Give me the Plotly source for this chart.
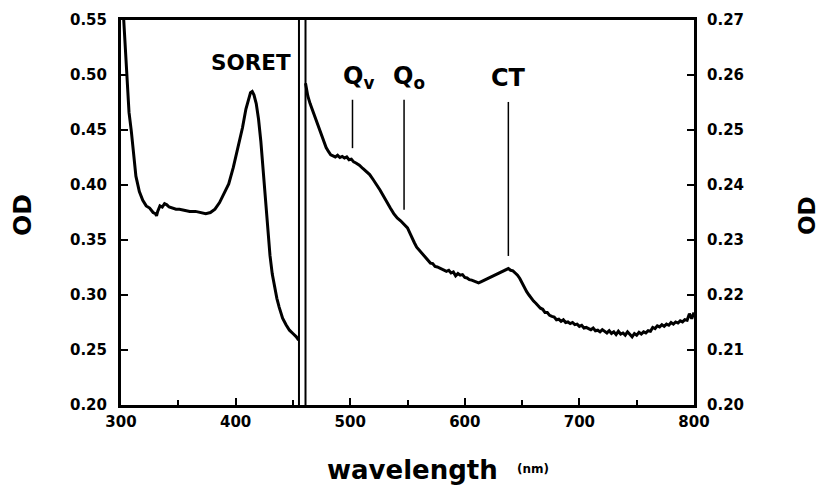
import plotly.graph_objects as go

# Soret region (left axis)
soret_nm = [301, 303, 305, 307, 309, 311, 313, 316, 319, 322, 325, 328, 330, 331, 332,
            334, 336, 338, 340, 342, 345, 348, 351, 355, 360, 365, 370, 374, 378, 382,
            386, 390, 394, 398, 402, 406, 409, 411, 413, 414.5, 416, 418, 420, 422, 424,
            426, 428, 430, 432, 434, 436, 438, 441, 444, 447, 450, 453, 455]
soret_od = [0.575, 0.535, 0.497, 0.466, 0.449, 0.425, 0.408, 0.394, 0.386, 0.381, 0.379,
            0.375, 0.374, 0.372, 0.376, 0.381, 0.380, 0.383, 0.382, 0.380, 0.379, 0.378,
            0.378, 0.377, 0.376, 0.376, 0.375, 0.374, 0.375, 0.378, 0.384, 0.392, 0.401,
            0.416, 0.433, 0.452, 0.469, 0.478, 0.484, 0.485, 0.482, 0.474, 0.460, 0.440,
            0.415, 0.387, 0.358, 0.336, 0.319, 0.307, 0.297, 0.289, 0.279, 0.273, 0.268,
            0.265, 0.262, 0.259]

# Visible / near-IR region (right axis)
vis_nm = [461, 463, 465, 467, 469, 471, 473, 475, 477, 479, 481, 483, 485, 487, 489, 491,
          493, 495, 497, 499, 501, 503, 505, 508, 511, 514, 517, 520, 523, 526, 529, 532,
          535, 538, 541, 544, 547, 550, 552, 554, 556, 558, 560, 562, 564, 566, 568, 570,
          572, 574, 576, 578, 580, 582, 584, 586, 588, 590, 592, 594, 596, 598, 600, 602,
          604, 606, 608, 610, 612, 614, 616, 618, 620, 622, 624, 626, 628, 630, 632, 634,
          636, 638, 640, 642, 644, 646, 648, 650, 652, 654, 656, 658, 660, 662, 664, 666,
          668, 670, 672, 674, 676, 678, 680, 682, 684, 686, 688, 690, 692, 694, 696, 698,
          700, 702, 704, 706, 708, 710, 712, 714, 716, 718, 720, 722, 724, 726, 728, 730,
          732, 734, 736, 738, 740, 742, 744, 746, 748, 750, 752, 754, 756, 758, 760, 762,
          764, 766, 768, 770, 772, 774, 776, 778, 780, 782, 784, 786, 788, 790, 792, 794,
          796, 798, 800]
vis_od = [0.2585, 0.2562, 0.2548, 0.2536, 0.2526, 0.2513, 0.2502, 0.2490, 0.2478, 0.2468,
          0.2461, 0.2455, 0.2453, 0.2451, 0.2454, 0.2450, 0.2452, 0.2449, 0.2451, 0.2446,
          0.2447, 0.2442, 0.2440, 0.2436, 0.2430, 0.2425, 0.2419, 0.2410, 0.2401, 0.2391,
          0.2380, 0.2368, 0.2358, 0.2348, 0.2340, 0.2335, 0.2328, 0.2322, 0.2313, 0.2303,
          0.2295, 0.2287, 0.2282, 0.2276, 0.2273, 0.2266, 0.2263, 0.2258, 0.2257, 0.2252,
          0.2251, 0.2249, 0.2247, 0.2246, 0.2243, 0.2245, 0.2240, 0.2242, 0.2235, 0.2239,
          0.2236, 0.2237, 0.2232, 0.2231, 0.2228, 0.2227, 0.2225, 0.2223, 0.2222, 0.2224,
          0.2226, 0.2228, 0.2229, 0.2231, 0.2233, 0.2236, 0.2238, 0.2240, 0.2242, 0.2243,
          0.2246, 0.2248, 0.2245, 0.2244, 0.2240, 0.2236, 0.2230, 0.2222, 0.2212, 0.2206,
          0.2200, 0.2194, 0.2189, 0.2185, 0.2180, 0.2176, 0.2174, 0.2168, 0.2168, 0.2163,
          0.2161, 0.2160, 0.2155, 0.2156, 0.2152, 0.2155, 0.2150, 0.2151, 0.2148, 0.2150,
          0.2146, 0.2147, 0.2143, 0.2145, 0.2140, 0.2141, 0.2139, 0.2137, 0.2140, 0.2135,
          0.2136, 0.2133, 0.2137, 0.2134, 0.2131, 0.2135, 0.2130, 0.2133, 0.2128, 0.2134,
          0.2129, 0.2131, 0.2127, 0.2133, 0.2128, 0.2124, 0.2130, 0.2127, 0.2132, 0.2129,
          0.2133, 0.2131, 0.2135, 0.2134, 0.2141, 0.2139, 0.2144, 0.2142, 0.2146, 0.2143,
          0.2147, 0.2145, 0.2150, 0.2147, 0.2151, 0.2149, 0.2153, 0.2151, 0.2155, 0.2154,
          0.2166, 0.2157, 0.2168]

# Band markers: (label, wavelength, top, bottom) on the right axis
band_labels = ["Q<sub>v</sub>", "Q<sub>o</sub>", "CT"]
band_nm = [502, 547, 638]
band_top = [0.2555, 0.2555, 0.2551]
band_bottom = [0.2467, 0.2355, 0.2271]
band_label_nm = [507, 551, 638]

break_nm = [455.3, 461.0]

BOLD = dict(family="DejaVu Sans", color="black", weight="bold")

fig = go.Figure()
fig.add_trace(go.Scatter(x=soret_nm, y=soret_od, mode="lines",
                         line=dict(color="black", width=3), yaxis="y",
                         showlegend=False))
fig.add_trace(go.Scatter(x=vis_nm, y=vis_od, mode="lines",
                         line=dict(color="black", width=3), yaxis="y2",
                         showlegend=False))

shapes = []
for bx in break_nm:
    shapes.append(dict(type="line", xref="x", yref="paper", x0=bx, x1=bx, y0=0, y1=1,
                       line=dict(color="black", width=2)))
for bx, t, b in zip(band_nm, band_top, band_bottom):
    shapes.append(dict(type="line", xref="x", yref="y2", x0=bx, x1=bx, y0=b, y1=t,
                       line=dict(color="black", width=1.5)))

annotations = [
    dict(text="SORET", x=413.5, y=0.5118, xref="x", yref="y", showarrow=False,
         font=dict(size=21.5, **BOLD)),
]
for lab, lx in zip(band_labels, band_label_nm):
    annotations.append(dict(text=lab, x=lx, y=0.2595, xref="x", yref="y2",
                            showarrow=False, font=dict(size=24, **BOLD)))
annotations += [
    dict(text="OD", x=23, y=215, xref="paper", yref="paper", showarrow=False,
         textangle=-90, font=dict(size=25, **BOLD)),
    dict(text="OD", x=807, y=215, xref="paper", yref="paper", showarrow=False,
         textangle=-90, font=dict(size=23, **BOLD)),
    dict(text="wavelength", x=412, y=470, xref="paper", yref="paper", showarrow=False,
         font=dict(size=26, **BOLD)),
    dict(text="(nm)", x=533, y=469, xref="paper", yref="paper", showarrow=False,
         font=dict(size=12, **BOLD)),
]

# convert pixel-positioned labels to paper coordinates
W, H = 819, 497
ML, MR, MT, MB = 121, 125, 20, 92
PW, PH = W - ML - MR, H - MT - MB
for a in annotations:
    if a["xref"] == "paper":
        a["x"] = (a["x"] - ML) / PW
        a["y"] = 1 - (a["y"] - MT) / PH
    a["xanchor"] = "center"
    a["yanchor"] = "middle"

axis_common = dict(showline=True, linecolor="black", linewidth=3, ticks="inside",
                   tickcolor="black", tickwidth=2, ticklen=7, showgrid=False,
                   zeroline=False, tickfont=dict(size=15, **BOLD))

fig.update_layout(
    width=W, height=H,
    margin=dict(l=ML, r=MR, t=MT, b=MB, pad=0),
    paper_bgcolor="white", plot_bgcolor="white",
    xaxis=dict(range=[300, 800], dtick=100, tick0=300, mirror=True,
               minor=dict(dtick=50, tick0=300, ticks="inside", ticklen=5,
                          tickwidth=2, tickcolor="black", showgrid=False),
               ticklabelstandoff=1, **axis_common),
    yaxis=dict(range=[0.20, 0.55], dtick=0.05, tick0=0.20, tickformat=".2f",
               ticklabelstandoff=8, **axis_common),
    yaxis2=dict(range=[0.20, 0.27], dtick=0.01, tick0=0.20, tickformat=".2f",
                overlaying="y", side="right", ticklabelstandoff=7, **axis_common),
    shapes=shapes,
    annotations=annotations,
)

fig.write_html("out.html")
